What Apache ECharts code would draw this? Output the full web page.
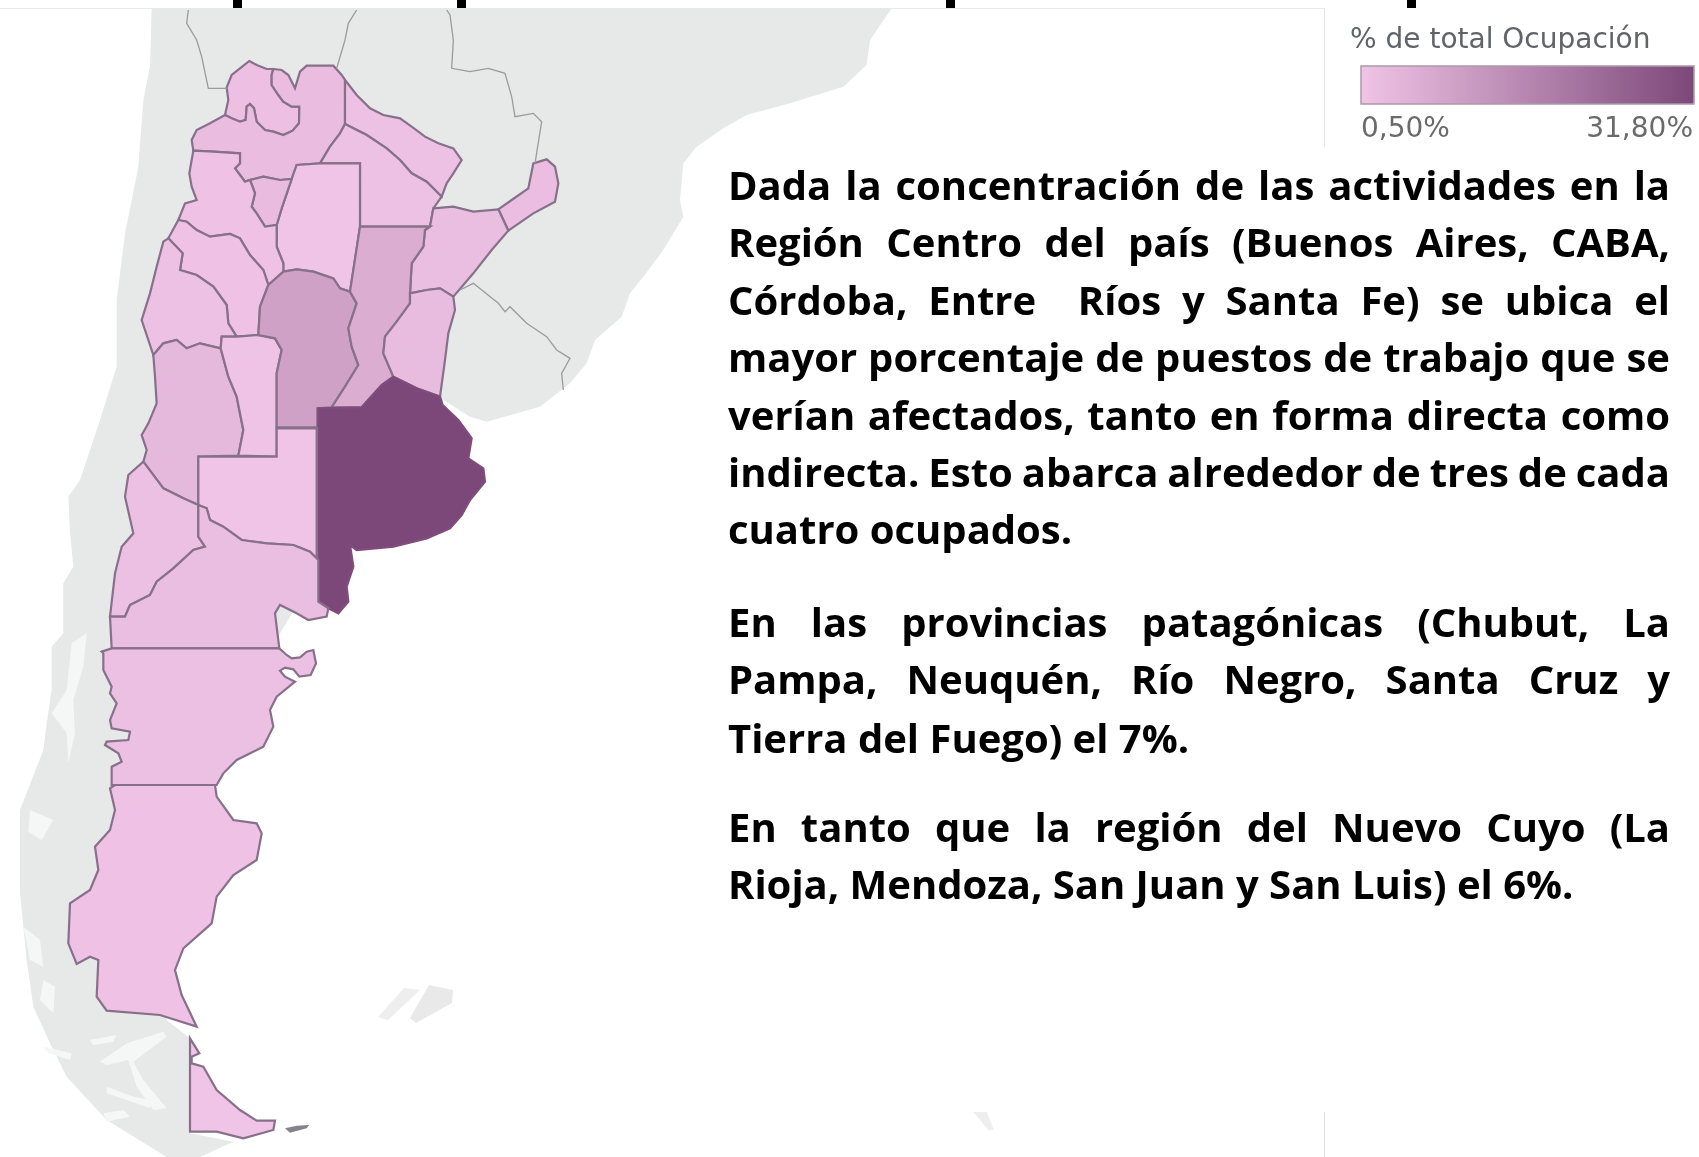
<!DOCTYPE html>
<html><head><meta charset="utf-8">
<script src="https://cdn.jsdelivr.net/npm/echarts@6/dist/echarts.min.js"></script>
<style>html,body{margin:0;padding:0;background:#fff}#c{width:1699px;height:1157px}</style>
</head><body><div id="c"></div>
<script>
// Values (% de total Ocupación)
const provinceNames = ['Jujuy','Salta','Formosa','Chaco','Misiones','Corrientes','Santiago del Estero','Tucumán','Catamarca','La Rioja','San Juan','Mendoza','San Luis','Córdoba','Santa Fe','Entre Ríos','Buenos Aires','La Pampa','Neuquén','Río Negro','Chubut','Santa Cruz','Tierra del Fuego'];
const provinceValues = [1.4,2.2,1.2,1.3,1.9,2.0,0.6,2.5,0.9,0.9,1.3,3.4,0.8,9.4,6.4,2.6,31.8,0.6,1.6,2.0,1.6,0.9,0.5];
const legendTitle = '% de total Ocupación';
const legendMinLabel = '0,50%';
const legendMaxLabel = '31,80%';
const legendMin = 0.5, legendMax = 31.8;
const paragraphLines = [
 ['Dada la concentración de las actividades en la',1],
 ['Región Centro del país (Buenos Aires, CABA,',1],
 ['Córdoba, Entre  Ríos y Santa Fe) se ubica el',1],
 ['mayor porcentaje de puestos de trabajo que se',1],
 ['verían afectados, tanto en forma directa como',1],
 ['indirecta. Esto abarca alrededor de tres de cada',1],
 ['cuatro ocupados.',0],
 ['En las provincias patagónicas (Chubut, La',1],
 ['Pampa, Neuquén, Río Negro, Santa Cruz y',1],
 ['Tierra del Fuego) el 7%.',0],
 ['En tanto que la región del Nuevo Cuyo (La',1],
 ['Rioja, Mendoza, San Juan y San Luis) el 6%.',0]
];
const paragraphBaselines = [202,259,317,374,432,489,546,639,696,755,844,901];

// Base-map geometry (map units)
const shapes = {
'Jujuy':[[380,262],[395,225],[420,205],[448,183],[470,195],[500,207],[520,207],[515,225],[515,255],[535,285],[550,305],[575,320],[598,320],[597,370],[578,392],[550,405],[520,395],[495,390],[470,365],[462,325],[450,312],[440,320],[437,360],[420,365],[395,355],[375,345],[385,300]],
'Salta':[[520,207],[545,210],[565,225],[585,265],[600,215],[620,197],[700,197],[725,225],[735,240],[735,372],[720,400],[690,440],[660,490],[590,495],[575,537],[540,540],[490,530],[450,540],[435,545],[420,525],[405,505],[420,490],[420,460],[340,455],[280,452],[275,420],[290,390],[330,370],[375,345],[395,355],[420,365],[437,360],[440,320],[450,312],[462,325],[470,365],[495,390],[520,395],[550,405],[578,392],[597,370],[598,320],[575,320],[550,305],[535,285],[515,255],[515,225]],
'Formosa':[[735,240],[770,285],[810,325],[850,345],[900,355],[935,380],[975,410],[1015,430],[1060,445],[1085,480],[1060,520],[1040,550],[1025,590],[980,545],[935,520],[900,480],[860,445],[800,405],[735,372]],
'Chaco':[[735,372],[800,405],[860,445],[900,480],[935,520],[980,545],[1025,590],[1000,625],[990,680],[780,680],[780,490],[660,490],[690,440],[720,400]],
'Santiago del Estero':[[590,495],[660,490],[780,490],[780,680],[750,875],[720,865],[700,835],[640,815],[590,808],[550,815],[550,790],[530,740],[530,675],[545,625],[575,537]],
'Tucumán':[[450,540],[490,530],[540,540],[575,537],[545,625],[530,675],[495,680],[470,640],[455,620],[465,580]],
'Catamarca':[[280,452],[340,455],[420,460],[420,490],[405,505],[420,525],[435,545],[450,540],[465,580],[455,620],[470,640],[495,680],[530,675],[530,740],[550,790],[550,815],[505,855],[490,810],[450,765],[420,715],[390,702],[330,710],[290,690],[260,665],[235,660],[255,610],[290,600],[275,560],[268,520]],
'La Rioja':[[235,660],[260,665],[290,690],[330,710],[390,702],[420,715],[450,765],[490,810],[505,855],[480,920],[475,1005],[410,1010],[385,970],[380,915],[340,860],[290,825],[240,810],[248,760],[205,715]],
'San Juan':[[205,715],[248,760],[240,810],[290,825],[340,860],[380,915],[385,970],[410,1010],[365,1010],[362,1045],[300,1030],[260,1045],[230,1020],[190,1030],[160,1065],[145,1020],[125,960],[150,880],[170,800],[190,725]],
'Mendoza':[[160,1065],[190,1030],[230,1020],[260,1045],[300,1030],[362,1045],[385,1130],[410,1190],[430,1290],[415,1367],[295,1370],[295,1515],[250,1495],[190,1465],[130,1385],[140,1350],[125,1305],[145,1270],[170,1210],[165,1130]],
'San Luis':[[365,1010],[410,1010],[475,1005],[525,1015],[545,1050],[530,1120],[530,1370],[415,1367],[430,1290],[410,1190],[385,1130],[362,1045]],
'Córdoba':[[550,815],[590,808],[640,815],[700,835],[720,865],[750,875],[770,910],[745,985],[755,1040],[775,1095],[735,1160],[695,1222],[652,1225],[652,1282],[530,1282],[530,1120],[545,1050],[525,1015],[475,1005],[480,920],[505,855]],
'Santa Fe':[[780,680],[990,680],[975,690],[970,740],[935,790],[930,880],[930,910],[890,965],[855,1010],[850,1060],[880,1130],[845,1155],[785,1222],[695,1222],[735,1160],[775,1095],[755,1040],[745,985],[770,910],[750,875]],
'Corrientes':[[1000,625],[1060,620],[1120,635],[1195,628],[1225,692],[1175,750],[1120,820],[1060,890],[1020,865],[980,870],[930,880],[935,790],[970,740],[975,690],[990,680]],
'Misiones':[[1195,628],[1235,600],[1285,565],[1300,490],[1340,478],[1365,500],[1375,550],[1365,605],[1300,640],[1225,692]],
'Entre Ríos':[[930,880],[980,870],[1020,865],[1060,890],[1065,930],[1045,1000],[1035,1080],[1020,1190],[950,1165],[880,1130],[850,1060],[855,1010],[890,965],[930,910]],
'Buenos Aires':[[655,1225],[785,1222],[845,1155],[880,1130],[950,1165],[1020,1190],[1028,1215],[1075,1260],[1115,1315],[1105,1375],[1150,1405],[1155,1445],[1110,1500],[1085,1545],[1050,1585],[980,1615],[880,1640],[770,1650],[750,1635],[760,1700],[740,1760],[745,1805],[715,1840],[685,1825],[655,1805]],
'La Pampa':[[530,1285],[650,1285],[650,1675],[630,1655],[580,1635],[500,1630],[425,1620],[370,1580],[330,1560],[320,1525],[295,1515],[295,1370],[530,1370]],
'Neuquén':[[130,1385],[190,1465],[250,1495],[295,1515],[295,1610],[315,1640],[280,1650],[220,1705],[170,1745],[150,1785],[90,1815],[75,1850],[30,1850],[45,1720],[65,1640],[100,1600],[75,1490],[85,1425]],
'Río Negro':[[295,1515],[320,1525],[330,1560],[370,1580],[425,1620],[500,1630],[580,1635],[630,1655],[655,1680],[655,1805],[685,1825],[680,1850],[625,1860],[590,1840],[540,1815],[525,1840],[538,1945],[35,1945],[30,1850],[75,1850],[90,1815],[150,1785],[170,1745],[220,1705],[280,1650],[315,1640],[295,1610]],
'Chubut':[[5,1955],[35,1945],[538,1945],[560,1965],[575,1975],[600,1972],[620,1955],[640,1950],[648,1990],[632,2025],[598,2030],[580,2008],[555,2003],[540,2012],[555,2030],[585,2045],[530,2090],[510,2130],[520,2180],[490,2240],[410,2280],[370,2320],[350,2355],[35,2355],[35,2300],[65,2285],[55,2260],[15,2235],[20,2225],[85,2220],[90,2195],[35,2185],[30,2160],[50,2110],[30,2080],[35,2060],[10,2010],[10,1960]],
'Santa Cruz':[[45,2355],[345,2355],[350,2390],[400,2460],[470,2470],[485,2500],[470,2580],[400,2625],[350,2690],[335,2770],[250,2845],[225,2910],[245,2985],[290,3080],[180,3045],[20,3032],[-10,2990],[-5,2880],[-30,2870],[-70,2892],[-95,2830],[-90,2710],[-30,2670],[-5,2610],[-15,2540],[30,2490],[45,2430],[30,2365]],
'Tierra del Fuego':[[270,3115],[298,3160],[275,3170],[275,3190],[310,3200],[350,3270],[420,3330],[470,3362],[525,3362],[520,3390],[430,3415],[350,3395],[270,3395]]
};
const landRings = {
'Continente':[[155,25],[2375,25],[2310,120],[2300,195],[2230,260],[2070,310],[1940,345],[1870,385],[1790,440],[1750,490],[1740,600],[1750,650],[1690,750],[1630,830],[1590,880],[1565,950],[1485,1020],[1460,1090],[1410,1150],[1320,1220],[1160,1265],[1110,1250],[1030,1200],[600,1800],[300,2300],[200,2900],[200,3060],[270,3115],[270,3400],[400,3425],[300,3471],[200,3471],[20,3360],[-100,3230],[-150,3130],[-200,3020],[-220,2880],[-240,2680],[-240,2430],[-170,2250],[-160,2170],[-145,2070],[-145,1940],[-110,1900],[-110,1750],[-80,1700],[-90,1600],[-95,1490],[-60,1440],[0,1260],[50,1100],[50,900],[75,700],[115,500],[130,300],[150,200]],
'Malvinas Oeste':[[912,2964],[834,3051],[864,3060],[960,2970]],
'Malvinas Este':[[987,2955],[1059,2970],[1056,3009],[948,3069],[930,3054]],
'Georgias':[[2620,3336],[2660,3336],[2682,3390],[2665,3390]]
};
const channelRings = [
[[-40,1900],[-85,1930],[-100,2070],[-145,2140],[-100,2200],[-95,2290],[-75,2200],[-80,2100],[-50,2000]],
[[-210,2430],[-140,2460],[-175,2520],[-215,2495]],
[[-230,2780],[-180,2820],[-170,2900],[-210,2880]],
[[-170,2940],[-135,2960],[-140,3040],[-180,3000]],
[[-170,3140],[-85,3160],[-90,3180],[-155,3160]],
[[-30,3120],[50,3105],[40,3125],[-20,3135]],
[[0,3185],[80,3130],[190,3095],[200,3110],[100,3185],[130,3240],[200,3325],[160,3330],[110,3260],[85,3180],[20,3195]],
[[20,3260],[100,3290],[150,3300],[150,3325],[80,3300],[20,3280]],
[[10,3340],[70,3330],[90,3350],[20,3365]]
];
const islaEstados = [[555,3385],[590,3377],[628,3375],[620,3385],[570,3398]];
const countryBorders = [
[[265,30],[260,70],[290,120],[305,170],[325,265],[380,265]],
[[770,30],[745,70],[735,120],[710,205]],
[[1040,30],[1050,45],[1060,120],[1055,205],[1110,215],[1165,205],[1215,220],[1235,290],[1245,350],[1300,340],[1325,365],[1305,490]],
[[1080,870],[1120,850],[1195,910],[1215,935],[1230,920],[1280,970],[1340,1010],[1370,1050],[1410,1075],[1385,1120],[1390,1170]]
];

const feature = (name, ring) => ({type:'Feature',properties:{name},geometry:{type:'Polygon',coordinates:[ring.concat([ring[0]])]}});
const features = [];
Object.keys(landRings).forEach(n => features.push(feature(n, landRings[n])));
channelRings.forEach((r,i) => features.push(feature('Canal '+i, r)));
features.push(feature('Isla de los Estados', islaEstados));
provinceNames.forEach(n => features.push(feature(n, shapes[n])));
echarts.registerMap('argentina', {type:'FeatureCollection',features});

const regions = [];
channelRings.forEach((r,i) => regions.push({name:'Canal '+i,itemStyle:{areaColor:'#f5f6f6',borderWidth:0}}));
regions.push({name:'Isla de los Estados',itemStyle:{areaColor:'#85838a',borderWidth:0}});
regions.push({name:'Malvinas Oeste',itemStyle:{areaColor:'#eeeeee',borderWidth:0}});
regions.push({name:'Malvinas Este',itemStyle:{areaColor:'#e9e9e9',borderWidth:0}});
regions.push({name:'Georgias',itemStyle:{areaColor:'#eeeeee',borderWidth:0}});
provinceNames.forEach(n => regions.push({name:n,itemStyle:{borderColor:n==='Buenos Aires'?'#7f4c7c':'#87708a',borderWidth:2.2}}));

const chart = echarts.init(document.getElementById('c'));
const bodyFont = 'bold 40px "Open Sans"';
const ctx = document.createElement('canvas').getContext('2d');
ctx.font = bodyFont;
const textLeft = 728, textRight = 1670;
const words = [];
paragraphLines.forEach((l,li) => {
  const parts = l[0].split(' ');
  const total = parts.reduce((s,w)=>s+(w?ctx.measureText(w).width:0),0);
  const gap = l[1] ? (textRight-textLeft-total)/(parts.length-1) : ctx.measureText(' ').width;
  let x = textLeft;
  parts.forEach(w => {
    if (w) words.push({type:'text',x,y:paragraphBaselines[li]-13,silent:true,style:{text:w,font:bodyFont,fill:'#000',verticalAlign:'middle',align:'left'}});
    x += (w?ctx.measureText(w).width:0)+gap;
  });
});
const rect=(x,y,w,h,fill)=>({type:'rect',silent:true,shape:{x,y,width:w,height:h},style:{fill}});
chart.setOption({
  animation:false,
  backgroundColor:'#ffffff',
  geo:{map:'argentina',silent:true,roam:false,
    projection:{project:p=>p,unproject:p=>p},
    boundingCoords:[[-300,0],[4797,3471]],
    left:0,top:0,width:1699,height:1157,
    itemStyle:{areaColor:'#e7e8e8',borderWidth:0},
    emphasis:{disabled:true},select:{disabled:true},
    regions},
  visualMap:{type:'continuous',seriesIndex:0,min:legendMin,max:legendMax,orient:'horizontal',
    left:1361,top:66,itemWidth:38,itemHeight:333,padding:0,
    calculable:false,hoverLink:false,text:null,showLabel:false,
    inRange:{color:['#f0c4e6','#7c4879']}},
  series:[
    {type:'map',geoIndex:0,data:provinceNames.map((name,i)=>({name,value:provinceValues[i]}))},
    {type:'lines',coordinateSystem:'geo',polyline:true,silent:true,
     lineStyle:{color:'#9b9b9b',width:1.3,opacity:1},
     data:countryBorders.map(coords=>({coords}))}
  ],
  graphic:[
    rect(0,8,1324,1,'#e9e9e9'),
    rect(1324,8,1,139,'#e6e6e6'),
    rect(1324,1112,1,45,'#dedede'),
    rect(233,0,9,8,'#000'),rect(457,0,9,8,'#000'),rect(946,0,9,8,'#000'),rect(1407,0,9,8,'#000'),
    {type:'rect',silent:true,z:1000,shape:{x:1361,y:66,width:333,height:38},style:{fill:'none',stroke:'#a99aa6',lineWidth:1.5}},
    {type:'text',x:1350,y:41,silent:true,style:{text:legendTitle,font:'28px "DejaVu Sans"',fill:'#606468',verticalAlign:'middle'}},
    {type:'text',x:1361,y:130,silent:true,style:{text:legendMinLabel,font:'28px "DejaVu Sans"',fill:'#6a6a6a',verticalAlign:'middle'}},
    {type:'text',x:1693,y:130,silent:true,style:{text:legendMaxLabel,font:'28px "DejaVu Sans"',fill:'#6a6a6a',align:'right',verticalAlign:'middle'}},
    ...words
  ]
});
</script></body></html>
